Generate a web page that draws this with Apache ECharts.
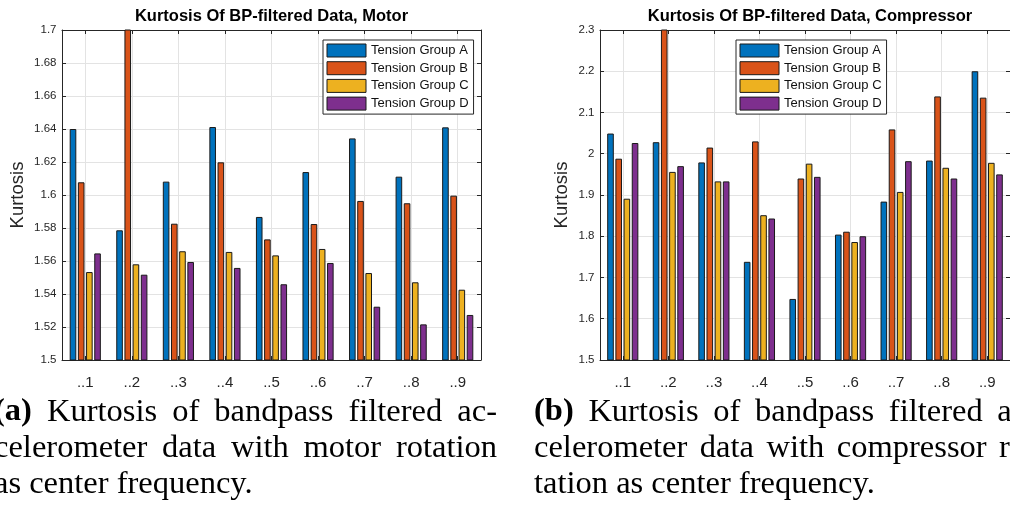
<!DOCTYPE html>
<html>
<head>
<meta charset="utf-8">
<script src="https://cdn.jsdelivr.net/npm/echarts@6/dist/echarts.min.js"></script>
<style>
  html, body { margin: 0; padding: 0; background: #fff; overflow: hidden; }
  #chart { width: 1010px; height: 515px; }
</style>
</head>
<body>
<div id="chart"></div>
<script>
// ---- data ----
const bands = ['..1', '..2', '..3', '..4', '..5', '..6', '..7', '..8', '..9'];
const groupNames = ['Tension Group A', 'Tension Group B', 'Tension Group C', 'Tension Group D'];

// Motor rotation as center frequency
const motorA = [1.640, 1.5786, 1.6081, 1.6412, 1.5867, 1.6139, 1.6343, 1.6111, 1.6410];
const motorB = [1.6077, 1.7400, 1.5826, 1.6198, 1.5731, 1.5824, 1.5964, 1.5950, 1.5996];
const motorC = [1.5533, 1.5580, 1.5659, 1.5655, 1.5634, 1.5673, 1.5527, 1.5471, 1.5426];
const motorD = [1.5646, 1.5517, 1.5594, 1.5558, 1.5459, 1.5588, 1.5323, 1.5216, 1.5273];
const motorTicks = [1.5, 1.52, 1.54, 1.56, 1.58, 1.6, 1.62, 1.64, 1.66, 1.68, 1.7];

// Compressor rotation as center frequency
const compA = [2.049, 2.028, 1.979, 1.738, 1.648, 1.804, 1.884, 1.9835, 2.200];
const compB = [1.988, 2.400, 2.015, 2.030, 1.940, 1.811, 2.059, 2.139, 2.136];
const compC = [1.891, 1.956, 1.933, 1.851, 1.976, 1.786, 1.9075, 1.966, 1.978];
const compD = [2.026, 1.970, 1.933, 1.843, 1.944, 1.800, 1.982, 1.940, 1.950];
const compTicks = [1.5, 1.6, 1.7, 1.8, 1.9, 2.0, 2.1, 2.2, 2.3];

const titles = ['Kurtosis Of BP-filtered Data, Motor', 'Kurtosis Of BP-filtered Data, Compressor'];
const yName = 'Kurtosis';

const captionA = ['(a) Kurtosis of bandpass filtered ac-', 'celerometer data with motor rotation', 'as center frequency.'];
const captionB = ['(b) Kurtosis of bandpass filtered ac-', 'celerometer data with compressor ro-', 'tation as center frequency.'];

// ---- styling ----
const SANS = '"Liberation Sans", Arial, Helvetica, sans-serif';
const SERIF = '"Liberation Serif", "Times New Roman", serif';
const AXIS = '#262626';
const GRIDC = '#e3e3e3';
const COLORS = ['#0072BD', '#D95319', '#EDB120', '#7E2F8E'];

const panels = [
  { grid: { left: 62, top: 30, width: 419, height: 330 }, ticks: motorTicks, series: [motorA, motorB, motorC, motorD], nameGap: 35, legendLeft: 323 },
  { grid: { left: 600, top: 30, width: 420, height: 330 }, ticks: compTicks, series: [compA, compB, compC, compD], nameGap: 29, legendLeft: 736 }
];

const option = {
  backgroundColor: '#fff',
  animation: false,
  textStyle: { fontFamily: SANS },
  grid: [], xAxis: [], yAxis: [], series: [], legend: [],
  graphic: { elements: [] }
};

panels.forEach((p, k) => {
  option.grid.push(p.grid);
  const yMin = p.ticks[0], yMax = p.ticks[p.ticks.length - 1];
  const step = +(p.ticks[1] - p.ticks[0]).toFixed(6);

  // bottom category axis (labels, centre grid lines)
  option.xAxis.push({
    type: 'category', gridIndex: k, data: bands, boundaryGap: true, position: 'bottom',
    axisLine: { onZero: false, lineStyle: { color: AXIS, width: 1 } },
    axisTick: { show: true, inside: true, length: 4, alignWithLabel: true, lineStyle: { color: AXIS } },
    axisLabel: { color: AXIS, fontSize: 15, margin: 15, fontFamily: SANS },
    splitLine: { show: true, alignWithLabel: true, lineStyle: { color: GRIDC, width: 1 } }
  });
  // top frame axis
  option.xAxis.push({
    type: 'category', gridIndex: k, data: bands, boundaryGap: true, position: 'top',
    axisLine: { onZero: false, lineStyle: { color: AXIS, width: 1 } },
    axisTick: { show: true, inside: true, length: 4, alignWithLabel: true, lineStyle: { color: AXIS } },
    axisLabel: { show: false },
    splitLine: { show: false }
  });
  // left value axis
  option.yAxis.push({
    type: 'value', gridIndex: k, min: yMin, max: yMax, interval: step, position: 'left',
    name: yName, nameLocation: 'middle', nameGap: p.nameGap,
    nameTextStyle: { color: AXIS, fontSize: 18.5, fontFamily: SANS },
    axisLine: { show: true, onZero: false, lineStyle: { color: AXIS, width: 1 } },
    axisTick: { show: true, inside: true, length: 4, lineStyle: { color: AXIS } },
    axisLabel: { color: AXIS, fontSize: 11.5, margin: 5.5, fontFamily: SANS,
                 formatter: v => String(+(+v).toFixed(2)) },
    splitLine: { show: true, lineStyle: { color: GRIDC, width: 1 } }
  });
  // right frame axis
  option.yAxis.push({
    type: 'value', gridIndex: k, min: yMin, max: yMax, interval: step, position: 'right',
    axisLine: { show: true, onZero: false, lineStyle: { color: AXIS, width: 1 } },
    axisTick: { show: true, inside: true, length: 4, lineStyle: { color: AXIS } },
    axisLabel: { show: false },
    splitLine: { show: false }
  });

  p.series.forEach((vals, s) => {
    option.series.push({
      type: 'bar', name: groupNames[s], xAxisIndex: 2 * k, yAxisIndex: 2 * k,
      data: vals, clip: true, barWidth: 6.6, barGap: '24%',
      itemStyle: { color: COLORS[s], borderColor: '#1a1a1a', borderWidth: 1 }
    });
  });

  option.legend.push({
    orient: 'vertical', left: p.legendLeft, top: 40, data: groupNames,
    icon: 'rect', itemWidth: 39, itemHeight: 13, itemGap: 3.7,
    padding: [3.5, 5, 3.5, 3.5],
    backgroundColor: '#fff', borderColor: AXIS, borderWidth: 1, borderRadius: 0,
    itemStyle: { borderColor: '#1a1a1a', borderWidth: 1 },
    textStyle: { color: '#111', fontSize: 13, fontFamily: SANS },
    selectedMode: false
  });

  option.graphic.elements.push({
    type: 'text', x: p.grid.left + p.grid.width / 2, y: 16, silent: true,
    style: { text: titles[k], font: 'bold 16.5px ' + SANS, fill: '#000', align: 'center', verticalAlign: 'middle' }
  });
});

// ---- captions (justified lines, word by word) ----
const CAP_SIZE = 32.5;
const CAP_BASELINES = [423, 459, 495];
const measureCtx = document.createElement('canvas').getContext('2d');
function capFont(weight) { return weight + ' ' + CAP_SIZE + 'px ' + SERIF; }
function measure(text, weight) { measureCtx.font = capFont(weight); return measureCtx.measureText(text).width; }

function addCaption(lines, left, width) {
  lines.forEach((line, i) => {
    const words = line.split(' ');
    const weights = words.map((w, j) => (i === 0 && j === 0) ? 'bold' : 'normal');
    const widths = words.map((w, j) => measure(w, weights[j]));
    const total = widths.reduce((a, b) => a + b, 0);
    const isLast = i === lines.length - 1;
    const gap = isLast ? measure(' ', 'normal') : (width - total) / (words.length - 1);
    let x = left;
    words.forEach((w, j) => {
      option.graphic.elements.push({
        type: 'text', x: x, y: CAP_BASELINES[i] - 0.3375 * CAP_SIZE, silent: true,
        style: { text: w, font: capFont(weights[j]), fill: '#000', align: 'left', verticalAlign: 'middle' }
      });
      x += widths[j] + gap;
    });
  });
}
addCaption(captionA, -6, 503);
addCaption(captionB, 534, 503);

const chart = echarts.init(document.getElementById('chart'), null, { renderer: 'canvas' });
chart.setOption(option);
</script>
</body>
</html>
